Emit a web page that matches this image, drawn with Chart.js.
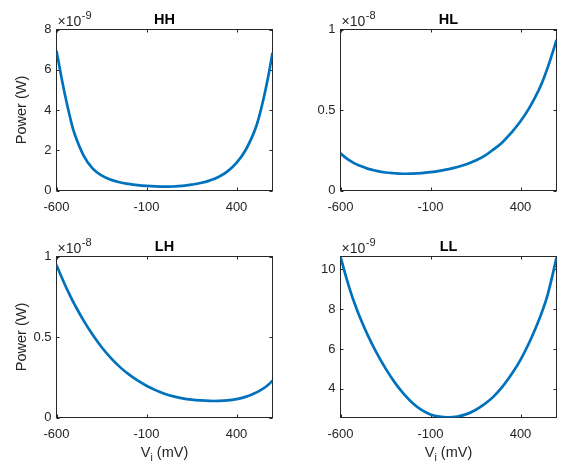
<!DOCTYPE html>
<html>
<head>
<meta charset="utf-8">
<script src="https://cdn.jsdelivr.net/npm/chart.js@4.4.1/dist/chart.umd.min.js"></script>
<style>
    html, body { margin: 0; padding: 0; background: #fff; }
    #figure { position: relative; width: 562px; height: 465px; overflow: hidden; }
    #figure canvas { position: absolute; }
</style>
</head>
<body>
<div id="figure">
    <canvas id="hh"></canvas>
    <canvas id="hl"></canvas>
    <canvas id="lh"></canvas>
    <canvas id="ll"></canvas>
</div>
<script>
// input voltage, mV
const vi = [-600, -575, -550, -525, -500, -450, -400, -350, -300, -250, -200, -150, -100, -50, 0,
            50, 100, 150, 200, 250, 300, 350, 400, 450, 500, 525, 550, 575, 600];
const viTicks = [-600, -100, 400];
const viMin = -600;
const viMax = 600;

// power, in units of the exponent shown above each panel
const hhPower = [6.95, 5.74, 4.63, 3.65, 2.83, 1.75, 1.1, 0.75, 0.54, 0.41, 0.33, 0.27, 0.23, 0.205, 0.195,
                 0.20, 0.23, 0.29, 0.37, 0.49, 0.67, 0.95, 1.37, 2.0, 2.95, 3.65, 4.55, 5.6, 6.85];
const hlPower = [0.232, 0.207, 0.187, 0.170, 0.157, 0.136, 0.122, 0.112, 0.107, 0.104, 0.105, 0.108, 0.114, 0.122, 0.133,
                 0.146, 0.163, 0.186, 0.215, 0.255, 0.30, 0.36, 0.43, 0.515, 0.62, 0.685, 0.76, 0.845, 0.935];
const lhPower = [0.947, 0.88, 0.817, 0.758, 0.703, 0.603, 0.515, 0.438, 0.372, 0.316, 0.269, 0.23, 0.197, 0.17, 0.148,
                 0.131, 0.119, 0.111, 0.106, 0.103, 0.103, 0.106, 0.114, 0.128, 0.15, 0.164, 0.181, 0.202, 0.228];
const llPower = [10.65, 9.81, 9.05, 8.37, 7.77, 6.72, 5.81, 5.02, 4.33, 3.75, 3.28, 2.93, 2.70, 2.59, 2.56,
                 2.6, 2.72, 2.93, 3.22, 3.6, 4.1, 4.72, 5.45, 6.35, 7.4, 8.0, 8.7, 9.6, 10.6];

const hhTicks = [0, 2, 4, 6, 8];
const hlTicks = [0, 0.5, 1];
const lhTicks = [0, 0.5, 1];
const llTicks = [4, 6, 8, 10];

const lineColor = '#0072BD';
const axisColor = '#262626';
const fontFamily = "'Liberation Sans', Arial, Helvetica, sans-serif";
const yAxisWidth = 40;
const xAxisHeight = 30;
const tickLen = 3;

Chart.defaults.font.family = fontFamily;

// box, inward ticks on all four sides, title, exponent and axis labels
const axesFrame = {
    id: 'axesFrame',
    beforeDatasetsDraw(chart) {
        const { ctx, chartArea: a, scales: { x, y } } = chart;
        ctx.save();
        ctx.strokeStyle = axisColor;
        ctx.lineWidth = 1;
        ctx.strokeRect(a.left, a.top, a.right - a.left, a.bottom - a.top);
        ctx.beginPath();
        x.ticks.forEach(t => {
            const px = Math.round(x.getPixelForValue(t.value)) + 0.5;
            ctx.moveTo(px, a.bottom); ctx.lineTo(px, a.bottom - tickLen);
            ctx.moveTo(px, a.top); ctx.lineTo(px, a.top + tickLen);
        });
        y.ticks.forEach(t => {
            const py = Math.round(y.getPixelForValue(t.value)) + 0.5;
            ctx.moveTo(a.left, py); ctx.lineTo(a.left + tickLen, py);
            ctx.moveTo(a.right, py); ctx.lineTo(a.right - tickLen, py);
        });
        ctx.stroke();
        ctx.restore();
    },
    afterDraw(chart, args, opts) {
        const { ctx, chartArea: a } = chart;
        const cx = (a.left + a.right) / 2;
        ctx.save();

        ctx.fillStyle = '#000';
        ctx.font = `bold 14.5px ${fontFamily}`;
        ctx.textAlign = 'center';
        ctx.textBaseline = 'alphabetic';
        ctx.fillText(opts.title, cx, a.top - 6);

        ctx.fillStyle = axisColor;
        ctx.textAlign = 'left';
        ctx.font = `14px ${fontFamily}`;
        const base = '\u00d710';
        ctx.fillText(base, a.left + 1, a.top - 4);
        const bw = ctx.measureText(base).width;
        ctx.font = `11px ${fontFamily}`;
        ctx.fillText(opts.exponent, a.left + 1 + bw + 0.5, a.top - 11);

        if (opts.yLabel) {
            ctx.save();
            ctx.font = `14.5px ${fontFamily}`;
            ctx.translate(22, (a.top + a.bottom) / 2);
            ctx.rotate(-Math.PI / 2);
            ctx.textAlign = 'center';
            ctx.textBaseline = 'middle';
            ctx.fillText('Power (W)', 0, 0);
            ctx.restore();
        }

        if (opts.xLabel) {
            const big = `14.5px ${fontFamily}`;
            const small = `10.5px ${fontFamily}`;
            ctx.font = big;
            const wV = ctx.measureText('V').width;
            const wRest = ctx.measureText(' (mV)').width;
            ctx.font = small;
            const wi = ctx.measureText('i').width;
            let px = cx - (wV + wi + wRest) / 2;
            const baseY = chart.height - 8;
            ctx.font = big;
            ctx.fillText('V', px, baseY);
            px += wV;
            ctx.font = small;
            ctx.fillText('i', px, baseY + 4);
            px += wi;
            ctx.font = big;
            ctx.fillText(' (mV)', px, baseY);
        }
        ctx.restore();
    }
};

const panels = [
    { id: 'hh', title: 'HH', values: hhPower, exponent: '-9', yMin: 0, yMax: 8, yTicks: hhTicks,
      yLabel: true, xLabel: false,
      frame: { x: 0, y: 0, w: 281, h: 232 }, box: { left: 56.5, top: 29.5, right: 272.5, bottom: 190.5 } },
    { id: 'hl', title: 'HL', values: hlPower, exponent: '-8', yMin: 0, yMax: 1, yTicks: hlTicks,
      yLabel: false, xLabel: false,
      frame: { x: 281, y: 0, w: 281, h: 232 }, box: { left: 340.5, top: 29.5, right: 556.5, bottom: 190.5 } },
    { id: 'lh', title: 'LH', values: lhPower, exponent: '-8', yMin: 0, yMax: 1, yTicks: lhTicks,
      yLabel: true, xLabel: true,
      frame: { x: 0, y: 232, w: 281, h: 233 }, box: { left: 56.5, top: 256.5, right: 272.5, bottom: 417.5 } },
    { id: 'll', title: 'LL', values: llPower, exponent: '-9', yMin: 2.55, yMax: 10.65, yTicks: llTicks,
      yLabel: false, xLabel: true,
      frame: { x: 281, y: 232, w: 281, h: 233 }, box: { left: 340.5, top: 256.5, right: 556.5, bottom: 417.5 } }
];

function makePanel(p) {
    const canvas = document.getElementById(p.id);
    const f = p.frame;
    const b = p.box;
    canvas.width = f.w;
    canvas.height = f.h;
    canvas.style.left = f.x + 'px';
    canvas.style.top = f.y + 'px';

    return new Chart(canvas, {
        type: 'line',
        data: {
            datasets: [{
                data: vi.map((v, i) => ({ x: v, y: p.values[i] })),
                borderColor: lineColor,
                borderWidth: 2.7,
                pointRadius: 0,
                tension: 0.4,
                fill: false
            }]
        },
        options: {
            responsive: false,
            animation: false,
            events: [],
            layout: {
                padding: {
                    left: b.left - f.x - yAxisWidth,
                    top: b.top - f.y,
                    right: f.x + f.w - b.right,
                    bottom: f.y + f.h - b.bottom - xAxisHeight
                }
            },
            scales: {
                x: {
                    type: 'linear',
                    min: viMin,
                    max: viMax,
                    grid: { display: false, drawTicks: false },
                    border: { display: false },
                    afterBuildTicks: s => { s.ticks = viTicks.map(v => ({ value: v })); },
                    afterFit: s => { s.height = xAxisHeight; },
                    ticks: { color: axisColor, font: { size: 13 }, padding: 9, maxRotation: 0, autoSkip: false,
                             callback: v => String(v) }
                },
                y: {
                    type: 'linear',
                    min: p.yMin,
                    max: p.yMax,
                    grid: { display: false, drawTicks: false },
                    border: { display: false },
                    afterBuildTicks: s => { s.ticks = p.yTicks.map(v => ({ value: v })); },
                    afterFit: s => { s.width = yAxisWidth; },
                    ticks: { color: axisColor, font: { size: 13 }, padding: 5, autoSkip: false,
                             callback: v => String(v) }
                }
            },
            plugins: {
                legend: { display: false },
                tooltip: { enabled: false },
                axesFrame: { title: p.title, exponent: p.exponent, yLabel: p.yLabel, xLabel: p.xLabel }
            }
        },
        plugins: [axesFrame]
    });
}

panels.forEach(makePanel);
</script>
</body>
</html>
